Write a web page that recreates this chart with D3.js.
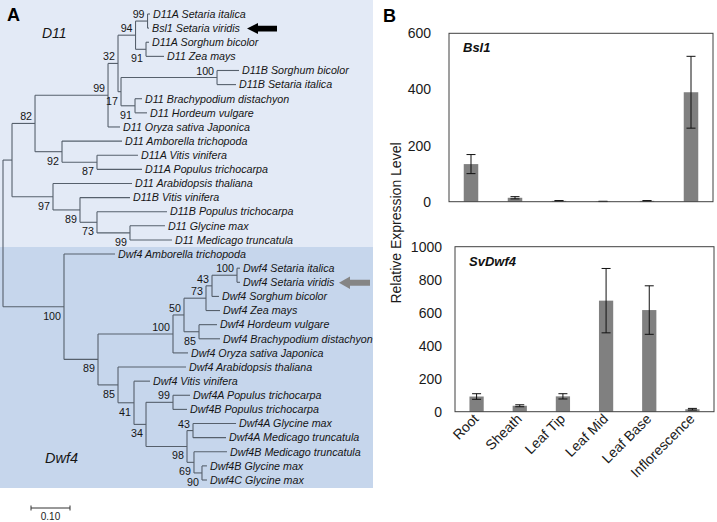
<!DOCTYPE html>
<html><head><meta charset="utf-8">
<script src="https://cdn.jsdelivr.net/npm/d3@7"></script>
<style>
body{margin:0;background:#fff}
svg{display:block}
text{font-family:"Liberation Sans",Arial,Helvetica,sans-serif}
</style>
</head><body>
<svg id="chart" width="717" height="522"></svg>
<script>
// ---------------- DATA ----------------
// Phylogeny (Newick, branch lengths in substitutions/site, internal labels = bootstrap)
const treeNewick = `(
 (
  (
   (
    (
     ((D11A_Setaria_italica:0.0064,Bsl1_Setaria_viridis:0.0038)99:0.0308,
      (D11A_Sorghum_bicolor:0.0077,D11_Zea_mays:0.0462)91:0.0269)94:0.0449,
     ((D11B_Sorghum_bicolor:0.0564,D11B_Setaria_italica:0.0487)100:0.2462,
      (D11_Brachypodium_distachyon:0.0179,D11_Hordeum_vulgare:0.0308)91:0.0359)17:0.0077
    )32:0.0256,
    D11_Oryza_sativa_Japonica:0.0308
   )99:0.1872,
   (D11_Amborella_trichopoda:0.1538,
    (D11A_Vitis_vinifera:0.1051,D11A_Populus_trichocarpa:0.1154)87:0.0897)92:0.0692
  )82:0.0590,
  (D11_Arabidopsis_thaliana:0.2026,
   (D11B_Vitis_vinifera:0.1282,
    (D11B_Populus_trichocarpa:0.1795,
     (D11_Glycine_max:0.0897,D11_Medicago_truncatula:0.1077)99:0.0846)73:0.0436)89:0.0692)97:0.1051
 ):0.0231,
 (Dwf4_Amborella_trichopoda:0.1308,
  (
   (
    (
     (
      ((Dwf4_Setaria_italica:0.0077,Dwf4_Setaria_viridis:0.0077)100:0.0641,Dwf4_Sorghum_bicolor:0.0179)43:0.0154,
      Dwf4_Zea_mays:0.0359
     )73:0.0564,
     (Dwf4_Hordeum_vulgare:0.0462,Dwf4_Brachypodium_distachyon:0.0538)85:0.0385
    )50:0.0282,
    Dwf4_Oryza_sativa_Japonica:0.0385
   )100:0.1923,
   (Dwf4_Arabidopsis_thaliana:0.1744,
    (Dwf4_Vitis_vinifera:0.0410,
     (
      (Dwf4A_Populus_trichocarpa:0.0436,Dwf4B_Populus_trichocarpa:0.0359)99:0.0692,
      (
       (Dwf4A_Glycine_max:0.1103,Dwf4A_Medicago_truncatula:0.0846)43:0.0154,
       (Dwf4B_Medicago_truncatula:0.0846,(Dwf4B_Glycine_max:0.0128,Dwf4C_Glycine_max:0.0128)90:0.0205)69:0.0179
      )98:0.1051
     )34:0.0308
    )41:0.0410
   )85:0.0513
  )89:0.0872
 )100:0.1564
);`;
const cladeNames = ["D11", "Dwf4"];
const scaleBarValue = 0.10;
const blackArrowLeaf = "Bsl1_Setaria_viridis";
const grayArrowLeaf = "Dwf4_Setaria_viridis";

// Expression data
const tissues = ["Root", "Sheath", "Leaf Tip", "Leaf Mid", "Leaf Base", "Inflorescence"];
const bsl1Mean = [134, 14, 3, 1, 3, 390];
const bsl1Err  = [34, 4, 1, 0.5, 1, 128];
const dwf4Mean = [92, 36, 93, 673, 616, 15];
const dwf4Err  = [17, 6, 16, 195, 147, 5];
const bsl1Ticks = [0, 200, 400, 600];
const dwf4Ticks = [0, 200, 400, 600, 800, 1000];
const yAxisTitle = "Relative Expression Level";

// ---------------- HELPERS ----------------
function parseNewick(str) {
  const s = str.replace(/\s+/g, "");
  let i = 0;
  function node() {
    const n = {};
    if (s[i] === "(") {
      i++; n.children = [];
      while (true) {
        n.children.push(node());
        if (s[i] === ",") { i++; continue; }
        break;
      }
      i++; // ')'
    }
    let name = "";
    while (i < s.length && !",():;".includes(s[i])) name += s[i++];
    n.name = name;
    n.length = 0;
    if (s[i] === ":") {
      i++; let num = "";
      while (i < s.length && !",();".includes(s[i])) num += s[i++];
      n.length = +num;
    }
    return n;
  }
  return node();
}

const svg = d3.select("#chart");
const FONT = '"Liberation Sans",Arial,Helvetica,sans-serif';

// ---------------- PANEL A: TREE ----------------
const root = d3.hierarchy(parseNewick(treeNewick));
root.eachBefore(d => { d.len = (d.parent ? d.parent.len : 0) + (d.data.length || 0); });
const leaves = root.leaves();

const xTree = d3.scaleLinear().domain([0, 0.1]).range([3, 42]);
const yTree = d3.scaleLinear().domain([0, leaves.length - 1]).range([14, 480]);

leaves.forEach((d, i) => { d.yy = yTree(i); });
root.eachAfter(d => {
  d.xx = xTree(d.len);
  if (d.children) d.yy = (d.children[0].yy + d.children[d.children.length - 1].yy) / 2;
});

// clade backgrounds
const nD11 = root.children[0].leaves().length;
const step = yTree(1) - yTree(0);
const panelRight = 373;
const bgTop = yTree(0) - step;
const bgMid = (yTree(nD11 - 1) + yTree(nD11)) / 2;
const bgBot = yTree(leaves.length - 1) + 8;
svg.append("rect").attr("x", 0).attr("y", bgTop).attr("width", panelRight).attr("height", bgMid - bgTop).attr("fill", "#e3eaf6");
svg.append("rect").attr("x", 0).attr("y", bgMid).attr("width", panelRight).attr("height", bgBot - bgMid).attr("fill", "#c6d6ec");

const gTree = svg.append("g");
const lineColor = "#56606c";
// horizontal branches
root.descendants().filter(d => d.parent).forEach(d => {
  gTree.append("line").attr("x1", d.parent.xx).attr("x2", d.xx).attr("y1", d.yy).attr("y2", d.yy)
    .attr("stroke", lineColor).attr("stroke-width", 1.1);
});
// vertical connectors
root.descendants().filter(d => d.children).forEach(d => {
  gTree.append("line").attr("x1", d.xx).attr("x2", d.xx)
    .attr("y1", d.children[0].yy).attr("y2", d.children[d.children.length - 1].yy)
    .attr("stroke", lineColor).attr("stroke-width", 1.1);
});
// leaf labels
leaves.forEach(d => {
  gTree.append("text").attr("x", d.xx + 3).attr("y", d.yy + 3.8)
    .attr("font-size", 10.7).attr("font-style", "italic").attr("fill", "#151515")
    .text(d.data.name.replace(/_/g, " "));
});
// bootstrap labels
root.descendants().filter(d => d.children && d.parent && d.data.name !== "").forEach(d => {
  const upper = d.parent.children[0] === d;
  gTree.append("text").attr("x", d.xx - 3).attr("y", upper ? d.yy - 3 : d.yy + 13)
    .attr("text-anchor", "end").attr("font-size", 10.7).attr("fill", "#151515")
    .text(d.data.name);
});

// clade names
svg.append("text").attr("x", 42).attr("y", 38).attr("font-size", 14).attr("font-style", "italic").attr("fill", "#151515").text(cladeNames[0]);
svg.append("text").attr("x", 45).attr("y", 463).attr("font-size", 14.5).attr("font-style", "italic").attr("fill", "#151515").text(cladeNames[1]);
// panel letter
svg.append("text").attr("x", 7).attr("y", 21).attr("font-size", 18).attr("font-weight", "bold").attr("fill", "#000").text("A");

// arrows
function arrow(leafName, tipX, tailX, headLen, headHalf, shaftHalf, color) {
  const lf = leaves.find(d => d.data.name === leafName);
  const y = lf.yy + 0.5;
  const p = `M${tipX},${y} L${tipX + headLen},${y - headHalf} L${tipX + headLen},${y - shaftHalf} L${tailX},${y - shaftHalf} L${tailX},${y + shaftHalf} L${tipX + headLen},${y + shaftHalf} L${tipX + headLen},${y + headHalf} Z`;
  svg.append("path").attr("d", p).attr("fill", color);
}
arrow(blackArrowLeaf, 247, 277, 11, 5.5, 2.8, "#000");
arrow(grayArrowLeaf, 339, 370, 11, 6.3, 3, "#858585");

// scale bar
const sbX0 = 31, sbY = 508;
const sbLen = xTree(scaleBarValue) - xTree(0);
const gSB = svg.append("g").attr("stroke", "#333").attr("stroke-width", 1);
gSB.append("line").attr("x1", sbX0).attr("x2", sbX0 + sbLen).attr("y1", sbY).attr("y2", sbY);
gSB.append("line").attr("x1", sbX0).attr("x2", sbX0).attr("y1", sbY - 2.5).attr("y2", sbY + 2.5);
gSB.append("line").attr("x1", sbX0 + sbLen).attr("x2", sbX0 + sbLen).attr("y1", sbY - 2.5).attr("y2", sbY + 2.5);
svg.append("text").attr("x", sbX0 + sbLen / 2).attr("y", 520).attr("text-anchor", "middle")
  .attr("font-size", 10).attr("fill", "#222").text(scaleBarValue.toFixed(2));

// ---------------- PANEL B: BARS ----------------
svg.append("text").attr("x", 383).attr("y", 22).attr("font-size", 18).attr("font-weight", "bold").attr("fill", "#000").text("B");

function barPanel(cfg) {
  const x = d3.scaleBand().domain(tissues).range([cfg.left, cfg.right]).paddingInner(0.67).paddingOuter(0.335);
  const y = d3.scaleLinear().domain([0, cfg.max]).range([cfg.bottom, cfg.top]);
  const g = svg.append("g");
  // bars
  g.selectAll("rect.bar").data(cfg.means).join("rect").attr("class", "bar")
    .attr("x", (d, i) => x(tissues[i])).attr("width", x.bandwidth())
    .attr("y", d => y(d)).attr("height", d => y(0) - y(d)).attr("fill", "#808080");
  // error bars
  const cap = 4.5;
  cfg.means.forEach((m, i) => {
    const cx = x(tissues[i]) + x.bandwidth() / 2;
    const lo = y(m - cfg.errs[i]), hi = y(m + cfg.errs[i]);
    const eg = g.append("g").attr("stroke", "#111").attr("stroke-width", 1);
    eg.append("line").attr("x1", cx).attr("x2", cx).attr("y1", lo).attr("y2", hi);
    eg.append("line").attr("x1", cx - cap).attr("x2", cx + cap).attr("y1", lo).attr("y2", lo);
    eg.append("line").attr("x1", cx - cap).attr("x2", cx + cap).attr("y1", hi).attr("y2", hi);
  });
  // frame
  g.append("rect").attr("x", cfg.left).attr("y", cfg.top).attr("width", cfg.right - cfg.left)
    .attr("height", cfg.bottom - cfg.top).attr("fill", "none").attr("stroke", "#404040").attr("stroke-width", 1);
  // y axis
  const ax = g.append("g").attr("transform", `translate(${cfg.left},0)`)
    .call(d3.axisLeft(y).tickValues(cfg.ticks).tickSize(0).tickPadding(cfg.pad).tickFormat(d3.format("d")));
  ax.select(".domain").remove();
  ax.attr("font-family", FONT).attr("font-size", 14);
  ax.selectAll("text").attr("fill", "#1a1a1a");
  // title inside plot
  g.append("text").attr("x", cfg.left + 14).attr("y", cfg.top + 19).attr("font-size", 13)
    .attr("font-weight", "bold").attr("font-style", "italic").attr("fill", "#111").text(cfg.label);
  // category labels
  if (cfg.showX) {
    tissues.forEach(t => {
      const cx = x(t) + x.bandwidth() / 2;
      g.append("text").attr("transform", `translate(${cx + 3},${cfg.bottom + 8}) rotate(-45)`)
        .attr("text-anchor", "end").attr("font-size", 14).attr("fill", "#1a1a1a").text(t);
    });
  }
}

barPanel({ left: 449, right: 713, top: 33.3, bottom: 201.7, max: 600, ticks: bsl1Ticks,
  means: bsl1Mean, errs: bsl1Err, label: "Bsl1", pad: 18, showX: false });
barPanel({ left: 455, right: 714, top: 246.7, bottom: 411.7, max: 1000, ticks: dwf4Ticks,
  means: dwf4Mean, errs: dwf4Err, label: "SvDwf4", pad: 13, showX: true });

svg.append("text").attr("transform", "translate(401,223) rotate(-90)").attr("text-anchor", "middle")
  .attr("font-size", 14).attr("fill", "#1a1a1a").text(yAxisTitle);
</script>
</body></html>
